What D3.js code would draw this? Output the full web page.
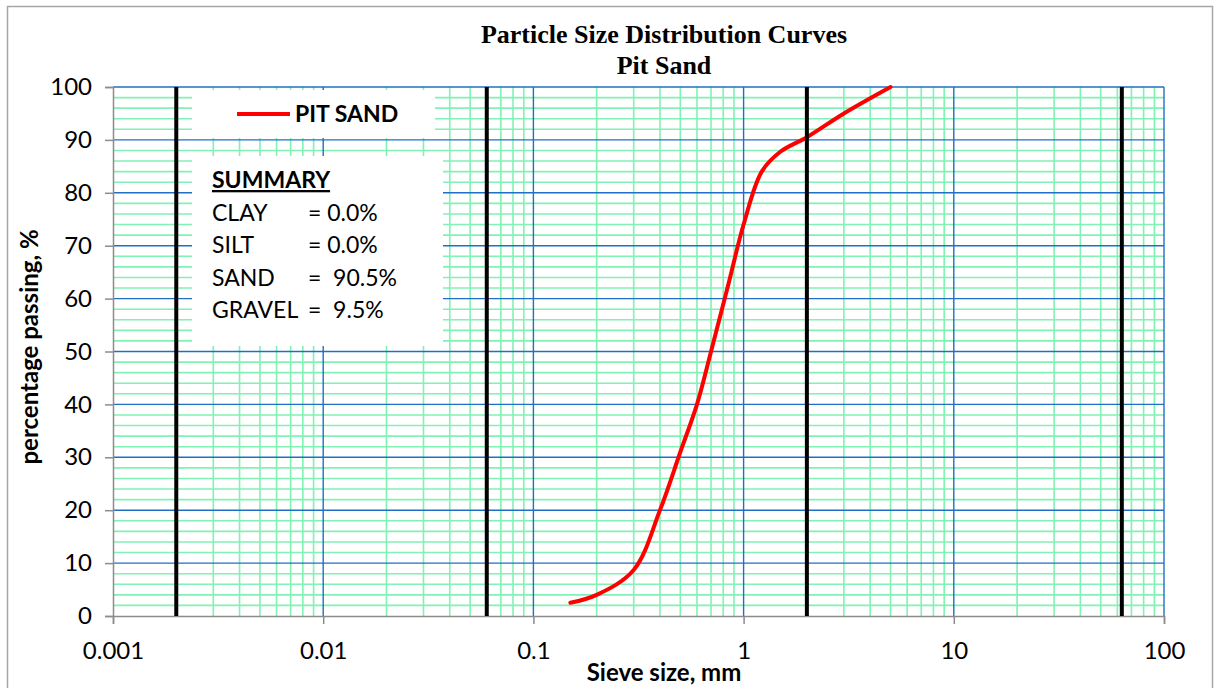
<!DOCTYPE html>
<html>
<head>
<meta charset="utf-8">
<script src="https://cdn.jsdelivr.net/npm/d3@7"></script>
<style>
  body { margin: 0; background: #fff; }
  svg { display: block; }
  text { font-family: Lato, "Open Sans", sans-serif; fill: #000; }
</style>
</head>
<body>
<svg id="chart" width="1216" height="688"></svg>
<script>
// sieve analysis
const sieveSize = [0.15, 0.2, 0.3, 0.4, 0.5, 0.6, 0.7, 0.85, 1.0, 1.22, 1.5, 2.0, 3.0, 5.0];
const percentPassing = [2.5, 4.0, 8.7, 20, 31, 40, 50, 63, 74, 84, 87.8, 90.5, 95, 100];

const xTicks = [0.001, 0.01, 0.1, 1, 10, 100];
const xTickLabels = ["0.001", "0.01", "0.1", "1", "10", "100"];
const yTicks = [0, 10, 20, 30, 40, 50, 60, 70, 80, 90, 100];

// clay / silt / sand / gravel / cobble limits (mm)
const boundaries = [0.002, 0.06, 2, 63];

const seriesName = "PIT SAND";
const summaryNames = ["CLAY", "SILT", "SAND", "GRAVEL"];
const summaryValues = ["= 0.0%", "= 0.0%", "=  90.5%", "=  9.5%"];

const svg = d3.select("#chart");

const plot = { left: 113, right: 1164, top: 87, bottom: 616 };

const x = d3.scaleLog().domain([0.001, 100]).range([plot.left, plot.right]);
const y = d3.scaleLinear().domain([0, 100]).range([plot.bottom, plot.top]);

const green = "#80f2b4";
const blue = "#1f70c4";
const serif = "'Liberation Serif', 'Times New Roman', serif";

// outer chart border
svg.append("rect")
    .attr("x", 7.5).attr("y", 6.5)
    .attr("width", 1205).attr("height", 700)
    .style("fill", "none")
    .style("stroke", "#a6a6a6")
    .style("stroke-width", 1.5);

// minor grid
let minorX = [];
for (let k = -3; k < 2; k++) {
    for (let m = 2; m <= 9; m++) minorX.push(m * Math.pow(10, k));
}
let minorY = d3.range(2, 100, 2).filter(v => v % 10 !== 0);

const grid = svg.append("g");

grid.selectAll(".mx").data(minorX).enter().append("line")
    .attr("x1", d => x(d)).attr("x2", d => x(d))
    .attr("y1", plot.top).attr("y2", plot.bottom)
    .style("stroke", green).style("stroke-width", 1.6);

grid.selectAll(".my").data(minorY).enter().append("line")
    .attr("x1", plot.left).attr("x2", plot.right)
    .attr("y1", d => y(d)).attr("y2", d => y(d))
    .style("stroke", green).style("stroke-width", 1.6);

// major grid
grid.selectAll(".Mx").data(xTicks.slice(1)).enter().append("line")
    .attr("x1", d => x(d)).attr("x2", d => x(d))
    .attr("y1", plot.top).attr("y2", plot.bottom)
    .style("stroke", blue).style("stroke-width", 1.4);

grid.selectAll(".My").data(yTicks.slice(1)).enter().append("line")
    .attr("x1", plot.left).attr("x2", plot.right)
    .attr("y1", d => y(d)).attr("y2", d => y(d))
    .style("stroke", blue).style("stroke-width", 1.4);

// boxes that hide the grid
svg.append("rect")
    .attr("x", 192).attr("y", 90)
    .attr("width", 243).attr("height", 48)
    .style("fill", "#fff");

svg.append("rect")
    .attr("x", 192).attr("y", 156)
    .attr("width", 251).attr("height", 190)
    .style("fill", "#fff");

// axes
const yAxis = d3.axisLeft(y).tickValues(yTicks).tickSize(8).tickPadding(13);
const xAxis = d3.axisBottom(x).tickValues(xTicks).tickSize(8)
    .tickFormat((d, i) => xTickLabels[i]).tickPadding(18);

const gy = svg.append("g").attr("transform", `translate(${plot.left},0)`).call(yAxis);
const gx = svg.append("g").attr("transform", `translate(0,${plot.bottom})`).call(xAxis);

[gx, gy].forEach(g => {
    g.select(".domain").style("stroke", "#8c8c8c").style("stroke-width", 1.5);
    g.selectAll(".tick line").style("stroke", "#8c8c8c").style("stroke-width", 1.5);
    g.selectAll(".tick text")
        .style("font-family", "Lato, sans-serif")
        .style("font-size", "24px")
        .style("fill", "#000");
});

// grading curve
const line = d3.line()
    .x(d => x(d[0]))
    .y(d => y(d[1]))
    .curve(d3.curveCatmullRom.alpha(0.5));

svg.append("path")
    .attr("d", line(d3.zip(sieveSize, percentPassing)))
    .style("fill", "none")
    .style("stroke", "#ff0000")
    .style("stroke-width", 4)
    .style("stroke-linecap", "round");

// soil class limits
svg.selectAll(".bound").data(boundaries).enter().append("line")
    .attr("x1", d => x(d)).attr("x2", d => x(d))
    .attr("y1", plot.top).attr("y2", plot.bottom)
    .style("stroke", "#000").style("stroke-width", 4);

// legend
svg.append("line")
    .attr("x1", 237).attr("x2", 290)
    .attr("y1", 114).attr("y2", 114)
    .style("stroke", "#ff0000").style("stroke-width", 4);

svg.append("text")
    .attr("x", 295).attr("y", 122)
    .style("font-size", "23px").style("font-weight", "bold")
    .text(seriesName);

// summary
svg.append("text")
    .attr("x", 212).attr("y", 188)
    .style("font-size", "23px").style("font-weight", "bold")
    .style("text-decoration", "underline")
    .text("SUMMARY");

summaryNames.forEach((name, i) => {
    let yy = 221 + i * 32.4;
    svg.append("text")
        .attr("x", 212).attr("y", yy)
        .style("font-size", "23px")
        .text(name);
    svg.append("text")
        .attr("x", 308).attr("y", yy)
        .style("font-size", "23px")
        .style("white-space", "pre")
        .text(summaryValues[i]);
});

// titles
svg.append("text")
    .attr("x", 664).attr("y", 43)
    .attr("text-anchor", "middle")
    .style("font-family", serif).style("font-weight", "bold")
    .style("font-size", "26px")
    .text("Particle Size Distribution Curves");

svg.append("text")
    .attr("x", 664).attr("y", 74)
    .attr("text-anchor", "middle")
    .style("font-family", serif).style("font-weight", "bold")
    .style("font-size", "26px")
    .text("Pit Sand");

svg.append("text")
    .attr("x", 664).attr("y", 681)
    .attr("text-anchor", "middle")
    .style("font-size", "24px").style("font-weight", "bold")
    .text("Sieve size, mm");

svg.append("text")
    .attr("transform", "translate(38,347) rotate(-90)")
    .attr("text-anchor", "middle")
    .style("font-size", "24px").style("font-weight", "bold")
    .text("percentage passing, %");
</script>
</body>
</html>
